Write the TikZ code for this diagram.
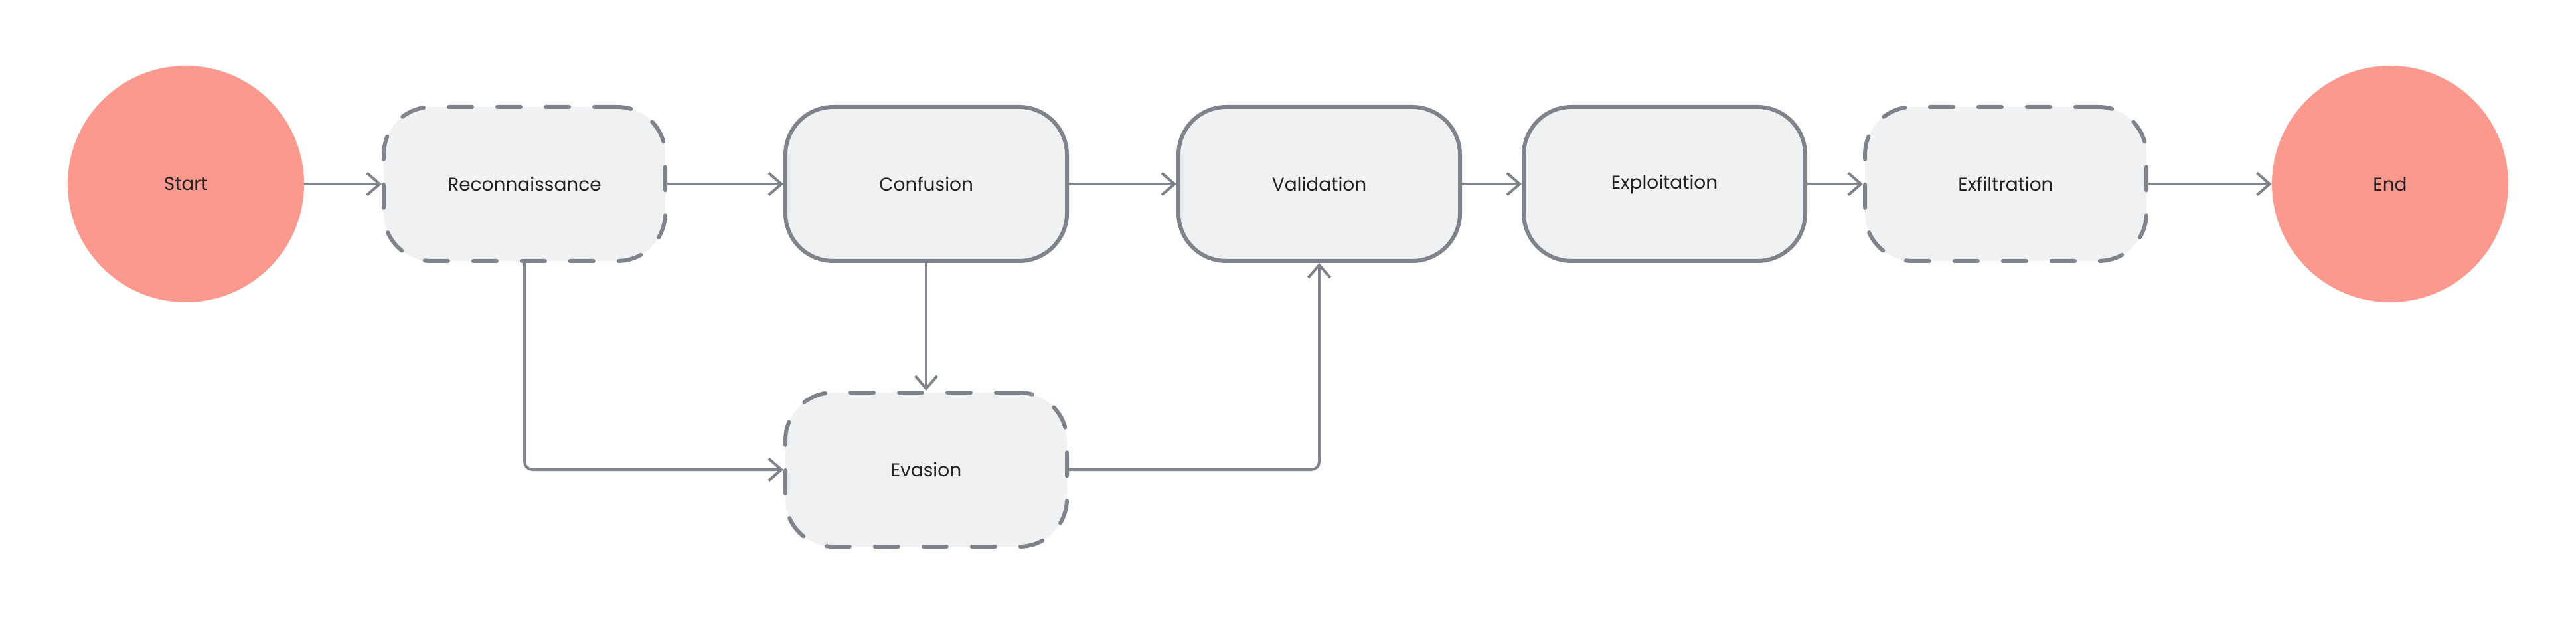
\documentclass[tikz,border=0pt]{standalone}
\usepackage{fontspec}
\setmainfont{Poppins}
\usetikzlibrary{arrows.meta}
\definecolor{edgecol}{HTML}{7F848C}
\definecolor{boxfill}{HTML}{F0F1F3}
\definecolor{termfill}{HTML}{FC998F}
\definecolor{txtcol}{HTML}{222222}
\begin{document}
\begin{tikzpicture}[x=1pt,y=1pt,
 every node/.style={font=\fontsize{14}{16}\selectfont, text=txtcol},
 terminal/.style={circle, fill=termfill, minimum size=178pt, inner sep=0pt},
 solidbox/.style={rectangle, rounded corners=36pt, fill=boxfill, draw=edgecol, line width=3pt, minimum width=212pt, minimum height=116pt},
 dashbox/.style={solidbox, dash pattern=on 17.5pt off 19pt, line cap=round},
 conn/.style={draw=edgecol, line width=2pt, -{Straight Barb[length=9.5pt,width=16.5pt]}},
]
\useasboundingbox (0,0) rectangle (1940,464);
\node[terminal] (start) at (140,325.5) {Start};
\node[dashbox] (recon) at (395,325.5) {Reconnaissance};
\node[solidbox] (conf) at (697.5,325.5) {Confusion};
\node[solidbox] (valid) at (993.5,325.5) {Validation};
\node[solidbox] (exploit) at (1253.5,325.5) {Exploitation};
\node[dashbox] (exfil) at (1510.5,325.5) {Exfiltration};
\node[terminal] (end) at (1800,325.5) {End};
\node[dashbox] (evasion) at (697.5,110.5) {Evasion};
\draw[conn] (start) -- (recon);
\draw[conn] (recon) -- (conf);
\draw[conn] (conf) -- (valid);
\draw[conn] (valid) -- (exploit);
\draw[conn] (exploit) -- (exfil);
\draw[conn] (exfil) -- (end);
\draw[conn] (conf) -- (evasion);
\draw[conn, rounded corners=6pt] (recon.south) |- (evasion.west);
\draw[conn, rounded corners=6pt] (evasion.east) -| (valid.south);
\end{tikzpicture}
\end{document}
